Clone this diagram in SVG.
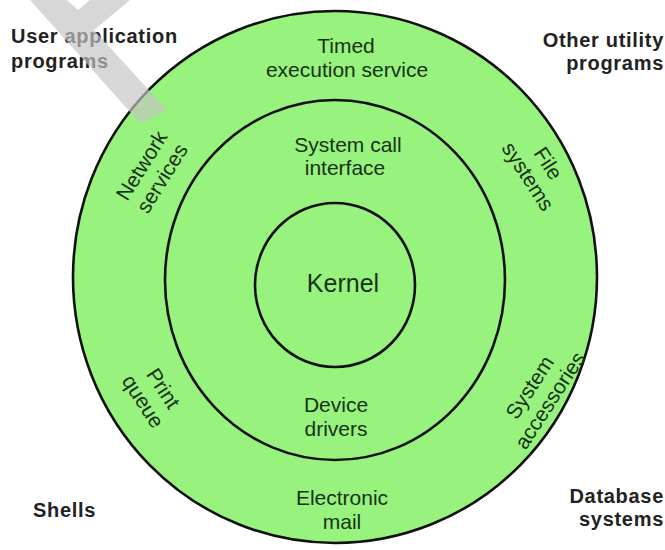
<svg xmlns="http://www.w3.org/2000/svg" width="665" height="550" viewBox="0 0 665 550">
<style>
.ring{fill:#98f27e;stroke:#111;stroke-width:2.6}
.lbl{font-family:"Liberation Sans",Arial,sans-serif;font-size:21px;fill:#173317;text-anchor:middle}
.corner{font-family:"Liberation Sans",Arial,sans-serif;font-size:20px;font-weight:bold;fill:#222;letter-spacing:0.7px}
.wm{fill:#c4c4c4;opacity:0.68}
</style>
<rect width="665" height="550" fill="#ffffff"/>
<g id="outer-ring">
<ellipse class="ring" cx="335" cy="277" rx="262" ry="266"/>
</g>
<g id="middle-ring">
<ellipse class="ring" cx="335" cy="280" rx="170" ry="180"/>
</g>
<g id="kernel">
<ellipse class="ring" cx="335" cy="285" rx="80" ry="82"/>
<text class="lbl" x="343" y="292" style="font-size:25px">Kernel</text>
</g>
<g id="timed-execution">
<text class="lbl" x="346" y="53">Timed</text>
<text class="lbl" x="347" y="77">execution service</text>
</g>
<g id="system-call">
<text class="lbl" x="348" y="152">System call</text>
<text class="lbl" x="345" y="175">interface</text>
</g>
<g id="device-drivers">
<text class="lbl" x="336" y="412">Device</text>
<text class="lbl" x="336" y="436">drivers</text>
</g>
<g id="electronic-mail">
<text class="lbl" x="342" y="505">Electronic</text>
<text class="lbl" x="342" y="529">mail</text>
</g>
<g id="network-services" transform="translate(152,172) rotate(-58)">
<text class="lbl" x="0" y="-5">Network</text>
<text class="lbl" x="0" y="19">services</text>
</g>
<g id="file-systems" transform="translate(538,170) rotate(57)">
<text class="lbl" x="0" y="-5">File</text>
<text class="lbl" x="0" y="19">systems</text>
</g>
<g id="print-queue" transform="translate(153,395) rotate(57)">
<text class="lbl" x="0" y="-5">Print</text>
<text class="lbl" x="0" y="19">queue</text>
</g>
<g id="system-accessories" transform="translate(540,394) rotate(-57)">
<text class="lbl" x="0" y="-5">System</text>
<text class="lbl" x="0" y="19">accessories</text>
</g>
<g id="user-application">
<text class="corner" x="11" y="43">User application</text>
<text class="corner" x="11" y="68">programs</text>
</g>
<g id="other-utility">
<text class="corner" x="664" y="47" text-anchor="end">Other utility</text>
<text class="corner" x="664" y="70" text-anchor="end">programs</text>
</g>
<g id="shells">
<text class="corner" x="33" y="517">Shells</text>
</g>
<g id="database">
<text class="corner" x="664" y="503" text-anchor="end">Database</text>
<text class="corner" x="664" y="526" text-anchor="end">systems</text>
</g>
<polygon class="wm" points="30,0 67,0 78,10 90,0 130,0 94,30 167,110 140,123"/>
</svg>
